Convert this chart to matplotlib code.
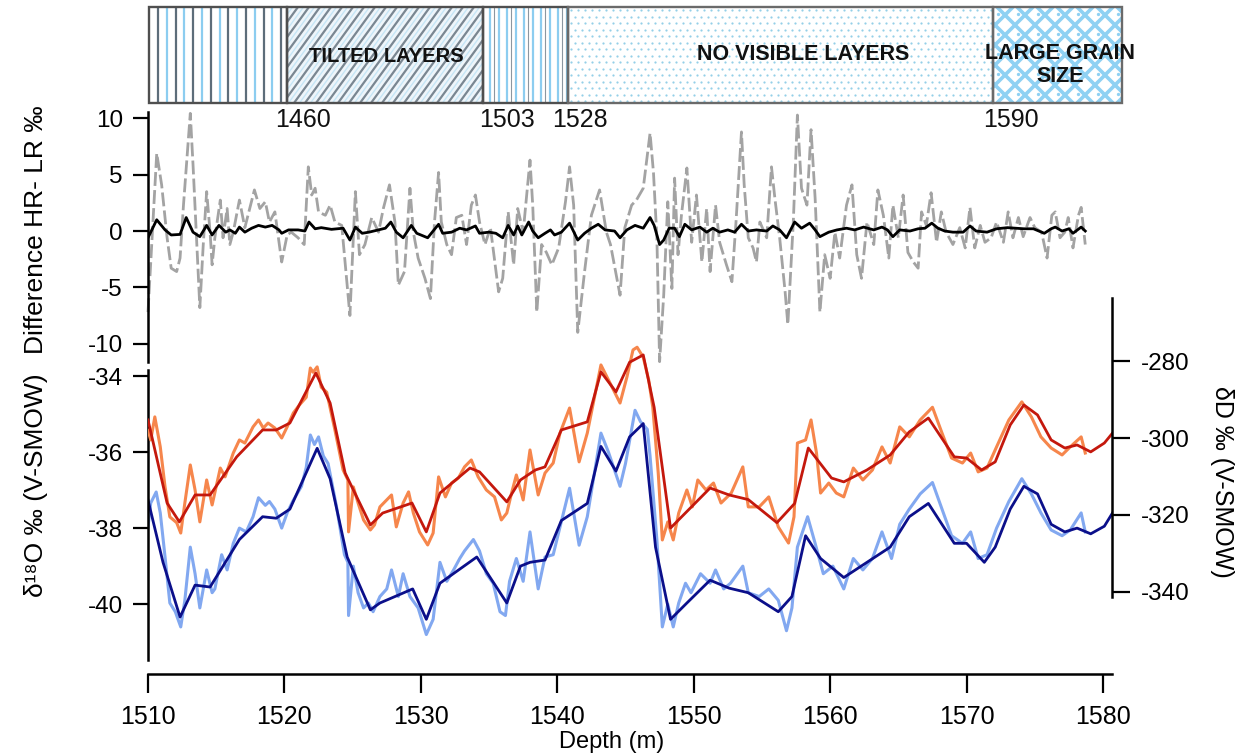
import matplotlib
matplotlib.use("Agg")
import matplotlib.pyplot as plt
import numpy as np
from matplotlib.patches import Rectangle
from matplotlib.collections import LineCollection

plt.rcParams['font.family'] = ['Liberation Sans', 'DejaVu Sans']
plt.rcParams['axes.unicode_minus'] = False

# ---------------- data ----------------
depth_ticks = [1510, 1520, 1530, 1540, 1550, 1560, 1570, 1580]
diff_ticks = [10, 5, 0, -5, -10]
d18o_ticks = [-34, -36, -38, -40]
dd_ticks = [-280, -300, -320, -340]

band_labels = ["", "TILTED LAYERS", "", "NO VISIBLE LAYERS", "LARGE GRAIN\nSIZE"]
band_depths = ["1460", "1503", "1528", "1590"]

# Difference HR - LR (grey dashed)
gray_depth = [1510.0, 1510.64, 1511.0, 1511.4, 1511.7, 1512.1, 1512.35, 1512.6, 1513.1, 1513.3,
              1513.8, 1514.05, 1514.3, 1514.55, 1514.7, 1514.9, 1515.3, 1515.5, 1515.8, 1516.0,
              1516.25, 1516.7, 1517.1, 1517.8, 1518.2, 1518.6, 1518.9, 1519.3, 1519.8, 1520.2,
              1520.5, 1521.0, 1521.45, 1521.75, 1522.0, 1522.25, 1522.5, 1523.0, 1523.35, 1523.7,
              1524.2, 1524.8, 1525.2, 1525.5, 1525.9, 1526.4, 1526.9, 1527.25, 1527.7, 1528.1,
              1528.35, 1528.8, 1529.2, 1529.45, 1529.8, 1530.3, 1530.7, 1531.0, 1531.3, 1531.5,
              1531.9, 1532.25, 1532.6, 1533.0, 1533.35, 1533.7, 1534.0, 1534.3, 1534.7, 1535.1,
              1535.7, 1536.0, 1536.4, 1536.8, 1537.1, 1537.5, 1538.0, 1538.2, 1538.5, 1538.85,
              1539.2, 1539.6, 1540.1, 1540.6, 1540.9, 1541.2, 1541.5, 1542.0, 1542.5, 1543.1,
              1543.6, 1543.9, 1544.6, 1544.95, 1545.45, 1545.8, 1546.3, 1546.8, 1547.05, 1547.3,
              1547.5, 1547.8, 1548.1, 1548.4, 1548.6, 1548.85, 1549.1, 1549.5, 1549.85, 1550.2,
              1550.6, 1550.95, 1551.2, 1551.6, 1551.9, 1552.4, 1552.8, 1553.1, 1553.5, 1553.7,
              1554.0, 1554.35, 1554.6, 1554.85, 1555.35, 1555.7, 1555.95, 1556.3, 1556.7, 1556.9,
              1557.3, 1557.6, 1557.9, 1558.3, 1558.6, 1558.9, 1559.25, 1559.6, 1560.0, 1560.35,
              1560.7, 1561.2, 1561.6, 1561.95, 1562.3, 1562.7, 1563.2, 1563.5, 1563.9, 1564.3,
              1564.6, 1565.0, 1565.35, 1565.7, 1566.1, 1566.45, 1566.7, 1567.05, 1567.4, 1567.8,
              1568.15, 1568.5, 1569.0, 1569.5, 1569.9, 1570.25, 1570.6, 1571.0, 1571.35, 1571.8,
              1572.2, 1572.7, 1573.05, 1573.4, 1573.8, 1574.15, 1574.65, 1575.0, 1575.5, 1575.9,
              1576.25, 1576.5, 1576.85, 1577.2, 1577.45, 1577.8, 1578.2, 1578.4, 1578.7]
gray_diff = [-7.2, 6.9, 4.1, -0.6, -3.3, -3.6, -2.4, 2.3, 10.45, 5.9,
             -6.8, -1.2, 3.5, -0.1, -3.0, -0.6, 2.75, -0.6, 2.0, -1.2,
             -0.1, 2.75, 0.3, 3.65, 2.0, 2.6, 0.8, 1.7, -2.75, -0.35,
             -0.1, -0.6, -1.2, 5.7, 3.2, 3.8, 1.7, 1.4, 2.3, 0.8,
             0.5, -7.5, 3.5, -2.1, -1.2, 1.2, -0.1, 2.0, 4.1, 0.8,
             -4.8, -3.6, 3.8, -0.1, -2.4, -4.2, -6.0, 0.8, 5.2, 0.8,
             -1.2, -2.1, 1.2, 1.4, -1.2, 2.3, 3.2, 0.8, -1.2, 0.3,
             -5.4, -4.2, 1.7, -3.0, 2.0, -0.1, 6.3, 2.3, -7.2, -1.2,
             -1.9, -3.0, -1.5, 2.6, 5.7, 2.3, -9.0, -3.6, 1.4, 3.65,
             -0.1, -1.2, -5.7, 0.3, 2.3, 2.75, 3.8, 8.7, 5.2, -0.6,
             -11.6, -5.7, 2.6, -5.1, 4.7, -2.1, 1.4, 5.6, -1.0, 3.2,
             -2.75, 2.0, -3.6, 2.3, -1.0, -3.0, -4.5, 0.8, 8.8, 4.1,
             -0.6, -1.5, -2.75, 0.8, -0.6, 5.7, 2.9, -0.6, -5.4, -8.3,
             0.8, 10.3, 3.8, 2.3, 9.0, 2.9, -7.2, -2.1, -4.2, -0.1,
             -2.4, 2.3, 4.1, -2.1, -4.2, 0.8, -1.2, 3.65, 1.4, -2.4,
             2.3, -0.6, 3.2, -1.9, -2.75, -3.3, 1.7, 0.5, 3.4, -1.0,
             1.7, -0.1, -1.2, 0.3, -1.5, 2.1, -1.5, 0.5, -1.0, -0.6,
             0.8, -1.0, 1.7, -0.6, 1.2, -0.5, 1.2, 0.3, -0.1, -2.4,
             1.4, 1.7, -0.6, -0.1, 1.2, -1.5, 1.4, 2.1, -1.2]

# Smoothed difference (black)
black_depth = [1510.0, 1510.64, 1511.25, 1511.7, 1512.35, 1512.8, 1513.3, 1513.8, 1514.3, 1514.7,
               1515.2, 1515.7, 1516.0, 1516.4, 1516.7, 1517.1, 1517.6, 1518.1, 1518.6, 1519.1,
               1519.6, 1519.8, 1520.3, 1521.0, 1521.5, 1521.8, 1522.25, 1522.7, 1523.45, 1524.3,
               1524.8, 1525.2, 1525.7, 1526.2, 1526.9, 1527.4, 1527.8, 1528.2, 1528.7, 1529.3,
               1529.7, 1530.5, 1531.3, 1531.6, 1532.25, 1532.85, 1533.35, 1534.0, 1534.3, 1535.0,
               1535.5, 1536.0, 1536.4, 1536.8, 1537.1, 1537.4, 1537.9, 1538.2, 1538.6, 1539.1,
               1539.5, 1539.8, 1540.3, 1540.9, 1541.5, 1542.0, 1542.5, 1543.0, 1543.5, 1544.2,
               1544.6, 1545.1, 1545.7, 1546.3, 1546.8, 1547.1, 1547.5, 1547.8, 1548.2, 1548.6,
               1548.95, 1549.35, 1549.85, 1550.45, 1550.95, 1551.4, 1551.9, 1552.5, 1553.0, 1553.5,
               1554.0, 1554.6, 1555.35, 1555.8, 1556.3, 1556.8, 1557.4, 1557.9, 1558.5, 1558.9,
               1559.25, 1559.9, 1560.5, 1561.2, 1561.8, 1562.45, 1563.2, 1563.8, 1564.2, 1564.6,
               1565.1, 1565.85, 1566.45, 1566.95, 1567.45, 1567.9, 1568.4, 1569.0, 1569.75, 1570.25,
               1570.7, 1571.5, 1572.2, 1573.0, 1573.6, 1574.2, 1574.9, 1575.7, 1576.2, 1576.5,
               1577.0, 1577.5, 1577.8, 1578.4, 1578.7]
black_diff = [-0.6, 1.0, 0.1, -0.35, -0.3, 1.2, -0.1, -0.5, 0.5, -0.35,
              0.5, -0.1, 0.1, -0.2, 0.35, -0.1, 0.25, 0.5, 0.35, 0.5,
              0.1, -0.2, 0.1, 0.1, 0.0, 0.8, 0.2, 0.3, 0.15, 0.25,
              -0.8, 0.35, -0.2, -0.1, 0.1, 0.25, 0.8, -0.1, -0.6, 0.5,
              -0.2, -0.6, 0.6, -0.2, -0.1, 0.25, 0.1, 0.45, -0.2, -0.1,
              -0.2, -0.6, 0.5, -0.35, 0.45, -0.35, 0.8, 0.0, -0.6, -0.2,
              0.1, -0.35, -0.1, 0.7, -0.8, -0.2, 0.25, 0.6, 0.1, 0.0,
              -0.6, 0.1, 0.5, 0.25, 1.2, 0.5, -1.2, -0.8, 0.25, 0.25,
              -0.5, 0.6, 0.1, 0.35, -0.1, 0.25, -0.1, 0.1, -0.1, 0.6,
              0.0, 0.1, 0.0, 0.45, 0.1, -0.6, 0.8, 0.25, 0.7, 0.1,
              -0.5, -0.1, 0.1, 0.25, 0.1, 0.35, 0.1, 0.35, 0.1, -0.5,
              0.1, 0.0, 0.2, 0.25, 0.7, 0.25, 0.0, -0.1, -0.1, 0.45,
              0.0, -0.1, 0.2, 0.3, 0.25, 0.2, 0.2, -0.2, 0.2, 0.35,
              0.0, 0.2, -0.2, 0.35, 0.0]

# d18O high resolution (light blue)
hr_d18o_depth = [1510.0, 1510.2, 1510.6, 1510.9, 1511.25, 1511.6, 1512.0, 1512.4, 1512.7, 1513.1,
                 1513.45, 1513.8, 1514.3, 1514.7, 1514.9, 1515.4, 1515.8, 1516.25, 1516.7, 1517.2,
                 1517.7, 1518.1, 1518.6, 1518.9, 1519.3, 1519.8, 1520.2, 1520.6, 1521.25, 1521.6,
                 1521.9, 1522.2, 1522.5, 1522.85, 1523.2, 1523.8, 1524.4, 1524.65, 1524.7, 1525.05,
                 1525.4, 1525.8, 1526.15, 1526.5, 1527.0, 1527.5, 1527.85, 1528.35, 1528.7, 1529.2,
                 1529.8, 1530.4, 1530.9, 1531.4, 1531.9, 1532.4, 1532.85, 1533.2, 1533.85, 1534.3,
                 1534.8, 1535.3, 1535.8, 1536.2, 1536.5, 1537.0, 1537.5, 1538.0, 1538.6, 1539.1,
                 1539.7, 1540.2, 1540.9, 1541.6, 1542.2, 1543.2, 1543.75, 1544.6, 1545.0, 1545.7,
                 1546.1, 1546.6, 1546.8, 1547.3, 1547.7, 1548.1, 1548.5, 1548.9, 1549.4, 1549.8,
                 1550.5, 1551.2, 1551.6, 1552.2, 1552.7, 1553.6, 1554.0, 1554.8, 1555.5, 1556.2,
                 1556.8, 1557.2, 1557.6, 1558.35, 1558.9, 1559.5, 1560.2, 1561.0, 1561.7, 1562.4,
                 1563.1, 1563.8, 1564.5, 1565.1, 1565.8, 1566.6, 1567.5, 1568.2, 1568.9, 1569.7,
                 1570.3, 1570.85, 1571.5, 1572.2, 1573.1, 1574.05, 1574.75, 1575.45, 1576.2, 1577.0,
                 1577.6, 1578.4, 1578.7]
hr_d18o = [-37.97, -37.34, -37.05, -37.6, -38.76, -39.97, -40.2, -40.6, -39.9, -38.5,
           -39.2, -40.1, -39.1, -39.7, -39.6, -38.7, -39.1, -38.4, -38.0, -38.1,
           -37.7, -37.2, -37.4, -37.3, -37.5, -38.0, -37.6, -37.3, -36.9, -36.4,
           -35.55, -35.8, -35.6, -36.1, -36.3, -37.4, -38.7, -38.9, -40.3, -39.0,
           -39.7, -40.1, -39.97, -40.2, -39.8, -39.6, -39.1, -39.8, -39.2, -39.8,
           -40.1, -40.8, -40.4, -38.9, -39.4, -39.1, -38.8, -38.6, -38.3, -38.6,
           -39.2, -39.45, -40.2, -40.3, -39.4, -38.8, -39.4, -38.1, -39.6, -38.76,
           -38.7, -37.97, -36.95, -38.45, -37.7, -35.5, -36.0, -36.9, -36.3, -34.9,
           -35.2, -35.4, -36.1, -38.3, -40.6, -40.0, -40.6, -39.97, -39.45, -39.7,
           -39.2, -39.45, -39.1, -39.6, -39.45, -39.0, -39.7, -39.8, -39.6, -39.9,
           -40.7, -40.1, -38.5, -37.7, -38.4, -39.2, -39.0, -39.6, -38.8, -39.1,
           -38.8, -38.1, -38.8, -37.9, -37.5, -37.1, -36.8, -37.5, -38.2, -38.4,
           -38.1, -38.8, -38.7, -38.0, -37.3, -36.7, -37.1, -37.6, -38.05, -38.2,
           -38.05, -37.6, -38.1]

# d18O low resolution (navy)
lr_d18o_depth = [1510.0, 1511.1, 1512.35, 1513.45, 1514.55, 1516.7, 1518.4, 1519.4, 1520.4, 1522.4,
                 1523.35, 1524.6, 1526.3, 1527.0, 1529.4, 1530.4, 1531.4, 1534.1, 1536.3, 1537.3,
                 1538.0, 1539.1, 1540.3, 1542.2, 1543.2, 1544.3, 1545.3, 1546.3, 1547.2, 1548.3,
                 1549.5, 1551.2, 1552.6, 1554.0, 1556.2, 1557.2, 1558.2, 1559.3, 1561.0, 1562.7,
                 1564.4, 1565.8, 1567.2, 1569.1, 1570.0, 1571.3, 1572.1, 1573.2, 1574.2, 1575.2,
                 1576.2, 1577.2, 1578.1, 1579.1, 1580.1, 1580.7]
lr_d18o = [-37.26, -38.9, -40.34, -39.5, -39.55, -38.3, -37.7, -37.74, -37.5, -35.9,
           -36.7, -38.76, -40.15, -39.97, -39.6, -40.4, -39.45, -38.76, -39.97, -39.0,
           -38.9, -38.84, -37.8, -37.35, -35.85, -36.5, -35.6, -35.25, -38.5, -40.4,
           -39.97, -39.37, -39.58, -39.7, -40.2, -39.8, -38.2, -38.8, -39.3, -38.9,
           -38.5, -37.7, -37.35, -38.4, -38.4, -38.9, -38.5, -37.5, -36.9, -37.1,
           -37.9, -38.1, -38.0, -38.15, -37.95, -37.6]

# dD high resolution (orange)
hr_dd_depth = [1510.0, 1510.2, 1510.5, 1510.9, 1511.25, 1511.6, 1512.1, 1512.4, 1512.7, 1513.1,
               1513.45, 1513.8, 1514.3, 1514.7, 1515.3, 1515.65, 1516.25, 1516.7, 1517.1, 1517.7,
               1518.1, 1518.45, 1518.8, 1519.3, 1519.8, 1520.2, 1520.65, 1521.1, 1521.6, 1521.9,
               1522.1, 1522.4, 1522.7, 1523.1, 1523.7, 1524.3, 1524.65, 1524.7, 1525.05, 1525.4,
               1525.8, 1526.3, 1526.6, 1527.0, 1527.5, 1527.85, 1528.2, 1528.7, 1529.1, 1529.45,
               1529.9, 1530.5, 1530.9, 1531.3, 1531.8, 1532.25, 1532.75, 1533.2, 1533.7, 1534.2,
               1534.8, 1535.4, 1535.9, 1536.3, 1536.65, 1537.0, 1537.5, 1538.0, 1538.6, 1539.1,
               1539.7, 1540.2, 1540.9, 1541.6, 1542.2, 1543.2, 1543.75, 1544.6, 1545.1, 1545.55,
               1545.85, 1546.3, 1546.7, 1547.0, 1547.4, 1547.7, 1548.1, 1548.5, 1548.9, 1549.5,
               1549.9, 1550.3, 1550.9, 1551.45, 1552.0, 1552.75, 1553.6, 1554.0, 1554.8, 1555.5,
               1556.2, 1556.95, 1557.35, 1557.6, 1558.2, 1558.6, 1559.0, 1559.3, 1559.9, 1560.45,
               1561.0, 1561.7, 1562.4, 1563.1, 1563.8, 1564.4, 1565.1, 1565.8, 1566.6, 1567.5,
               1568.2, 1568.9, 1569.7, 1570.3, 1570.85, 1571.5, 1572.2, 1573.1, 1574.05, 1574.75,
               1575.45, 1576.2, 1577.0, 1577.6, 1578.4, 1578.7]
hr_dd = [-298.0, -300.5, -294.5, -302.3, -312.7, -320.5, -322.0, -324.7, -316.9, -307.0,
         -313.5, -321.8, -310.9, -317.4, -307.8, -310.1, -303.9, -300.5, -301.3, -297.1,
         -295.3, -297.4, -296.1, -297.4, -300.0, -297.1, -293.5, -291.4, -289.4, -281.8,
         -282.9, -281.5, -286.8, -288.1, -297.9, -308.3, -310.9, -324.4, -312.7, -316.9,
         -321.3, -323.9, -322.6, -317.9, -316.1, -314.8, -323.1, -316.9, -314.0, -319.5,
         -324.4, -327.8, -324.7, -310.1, -315.3, -311.7, -310.4, -307.5, -305.7, -310.1,
         -313.5, -315.3, -321.3, -319.5, -314.3, -309.6, -316.1, -303.1, -314.8, -309.1,
         -306.5, -298.7, -292.2, -306.2, -298.7, -281.0, -284.9, -290.9, -284.2, -277.1,
         -276.4, -279.0, -284.9, -292.0, -309.1, -326.5, -321.8, -326.5, -319.5, -313.5,
         -317.9, -310.9, -313.5, -311.7, -316.9, -314.3, -307.5, -317.9, -317.9, -315.3,
         -323.1, -327.3, -320.5, -301.3, -300.5, -295.3, -303.9, -314.3, -311.7, -314.3,
         -315.3, -307.8, -310.9, -308.3, -302.3, -306.5, -297.1, -299.7, -295.3, -292.0,
         -298.7, -305.2, -306.5, -303.9, -308.8, -307.8, -302.3, -295.3, -290.6, -294.5,
         -299.7, -302.6, -304.4, -302.3, -299.7, -303.9]

# dD low resolution (dark red)
lr_dd_depth = [1510.0, 1511.4, 1512.3, 1513.45, 1514.55, 1516.5, 1518.4, 1519.4, 1520.4, 1522.3,
               1523.35, 1524.45, 1526.3, 1527.2, 1529.35, 1530.4, 1531.4, 1533.6, 1534.3, 1536.3,
               1537.3, 1538.4, 1539.1, 1540.3, 1542.2, 1543.2, 1544.3, 1545.3, 1546.3, 1547.1,
               1548.3, 1551.2, 1552.6, 1554.0, 1556.1, 1557.4, 1558.4, 1560.1, 1561.0, 1562.7,
               1564.4, 1565.8, 1567.2, 1569.1, 1570.0, 1571.1, 1572.1, 1573.2, 1574.2, 1575.2,
               1576.2, 1577.2, 1578.1, 1579.1, 1580.1, 1580.7]
lr_dd = [-295.3, -316.9, -321.8, -314.8, -314.8, -304.9, -297.9, -297.9, -296.1, -283.1,
         -290.9, -309.1, -322.6, -319.5, -316.9, -324.4, -314.3, -307.8, -308.8, -316.6,
         -310.9, -308.3, -307.5, -297.9, -295.8, -282.8, -288.0, -280.3, -278.4, -292.0,
         -323.4, -313.0, -314.8, -316.0, -322.0, -317.0, -302.6, -310.4, -311.4, -308.3,
         -304.4, -298.4, -294.8, -304.9, -305.2, -308.3, -306.2, -296.6, -291.4, -294.0,
         -300.5, -302.6, -301.8, -303.6, -301.3, -298.7]

# ---------------- layout (figure pixels) ----------------
W, H = 1255, 756
fig = plt.figure(figsize=(W / 100, H / 100), dpi=100)


def box(x0, y0, x1, y1):
    return [x0 / W, 1 - y1 / H, (x1 - x0) / W, (y1 - y0) / H]


# overlay in pixel coordinates for the lithology band
ov = fig.add_axes([0, 0, 1, 1])
ov.set_xlim(0, W)
ov.set_ylim(H, 0)
ov.axis('off')

BX = [149, 287, 483, 568, 993, 1122]
BY0, BY1 = 7, 103
BH = BY1 - BY0
light_blue = '#8ccdf0'
slate = '#5d6d7a'

rects = []
for i in range(5):
    fc = '#eef5fa' if i == 1 else 'white'
    r = Rectangle((BX[i], BY0), BX[i + 1] - BX[i], BH, facecolor=fc, edgecolor='none', zorder=1)
    ov.add_patch(r)
    rects.append(r)

# segment 1: vertical stripes grey + blue
segs_g = [[(x, BY0), (x, BY1)] for x in np.arange(158, BX[1], 17.6)]
segs_b = [[(x, BY0), (x, BY1)] for x in np.arange(166.8, BX[1], 17.6)]
for segs, col, lw in [(segs_b, light_blue, 1.6), (segs_g, slate, 1.6)]:
    lc = LineCollection(segs, colors=col, linewidths=lw, zorder=2)
    ov.add_collection(lc)
    lc.set_clip_path(rects[0])

# segment 2: tilted lines
slant = 70
segs_g = [[(c, BY1), (c + slant, BY0)] for c in np.arange(BX[1] - slant, BX[2] + 5, 11)]
segs_b = [[(c + 5.5, BY1), (c + 5.5 + slant, BY0)] for c in np.arange(BX[1] - slant, BX[2] + 5, 11)]
for segs, col, lw in [(segs_b, '#c6e6f6', 1.0), (segs_g, '#7a8792', 1.6)]:
    lc = LineCollection(segs, colors=col, linewidths=lw, zorder=2)
    ov.add_collection(lc)
    lc.set_clip_path(rects[1])

# segment 3: vertical blue stripes with thin grey
segs_b = [[(x, BY0), (x, BY1)] for x in np.arange(490, BX[3], 8.5)]
segs_g = [[(x, BY0), (x, BY1)] for x in np.arange(494.2, BX[3], 17)]
for segs, col, lw in [(segs_b, light_blue, 1.6), (segs_g, '#8a96a0', 0.8)]:
    lc = LineCollection(segs, colors=col, linewidths=lw, zorder=2)
    ov.add_collection(lc)
    lc.set_clip_path(rects[2])

# segment 4: dots
dx, dy = 7.0, 6.5
pts_x, pts_y = [], []
for j, yy in enumerate(np.arange(BY0 + 3, BY1, dy)):
    off = 0 if j % 2 == 0 else dx / 2
    for xx in np.arange(BX[3] + 3 + off, BX[4], dx):
        pts_x.append(xx)
        pts_y.append(yy)
ov.plot(pts_x, pts_y, linestyle='none', marker='o', markersize=1.6, markeredgewidth=0,
        color='#94cfe8', zorder=2)

# segment 5: lattice
sp = 20.0
segs = []
for c in np.arange(BX[4] - BH, BX[5] + BH, sp):
    segs.append([(c, BY1), (c + BH, BY0)])
    segs.append([(c, BY0), (c + BH, BY1)])
lc = LineCollection(segs, colors='#8fd1f3', linewidths=2.6, zorder=2)
ov.add_collection(lc)
lc.set_clip_path(rects[4])
cx, cy = [], []
for yy in np.arange(BY0 + sp / 2 - 3, BY1, sp):
    for xx in np.arange(BX[4] + 5, BX[5], sp):
        cx.append(xx)
        cy.append(yy)
dots = ov.plot(cx, cy, linestyle='none', marker='o', markersize=2.4, markeredgewidth=0,
               color='#8fd1f3', zorder=2)[0]
dots.set_clip_path(rects[4])

for i in range(5):
    ec = '#4f4f4f' if i in (0, 1, 2) else '#6a6a6a'
    ov.add_patch(Rectangle((BX[i], BY0), BX[i + 1] - BX[i], BH, facecolor='none',
                           edgecolor=ec, linewidth=1.7, zorder=4))

band_text_pos = [None, (386, 57), None, (803, 55), (1060, 65)]
band_text_size = [0, 14.5, 0, 15.5, 15.5]
for lab, pos, fs in zip(band_labels, band_text_pos, band_text_size):
    if lab:
        ov.text(pos[0], pos[1], lab, ha='center', va='center', fontsize=fs,
                fontweight='bold', color='#111111', linespacing=1.1, zorder=5)

depth_label_x = [303, 507, 580, 1011]
for lab, xx in zip(band_depths, depth_label_x):
    ov.text(xx, 120, lab, ha='center', va='center', fontsize=18, color='#111111')

# ---------------- difference panel ----------------
XMIN, XMAX = 1510, 1580.66
ax_d = fig.add_axes(box(148, 112, 1112, 362))
ax_d.patch.set_alpha(0)
ax_d.set_xlim(XMIN, XMAX)
ax_d.set_ylim(-11.63, 10.57)
for s in ['top', 'right', 'bottom']:
    ax_d.spines[s].set_visible(False)
ax_d.spines['left'].set_linewidth(1.8)
ax_d.set_yticks(diff_ticks)
ax_d.set_yticklabels([str(t) for t in diff_ticks])
ax_d.tick_params(axis='y', direction='out', length=11, width=1.6, labelsize=17.5, pad=7)
ax_d.tick_params(axis='x', bottom=False, labelbottom=False)
ax_d.plot(gray_depth, gray_diff, color='#a3a3a3', linewidth=2.0, linestyle=(0, (5, 1.5)),
          clip_on=False)
ax_d.plot(black_depth, black_diff, color='black', linewidth=2.0)

# ---------------- isotope panel ----------------
ax_o = fig.add_axes(box(148, 370, 1112, 660))
ax_o.patch.set_alpha(0)
ax_o.set_xlim(XMIN, XMAX)
ax_o.set_ylim(-41.47, -33.84)
for s in ['top', 'right']:
    ax_o.spines[s].set_visible(False)
ax_o.spines['left'].set_linewidth(1.8)
ax_o.spines['bottom'].set_linewidth(1.8)
ax_o.spines['bottom'].set_position(('outward', 10))
ax_o.set_yticks(d18o_ticks)
ax_o.set_yticklabels([str(t) for t in d18o_ticks])
ax_o.set_xticks(depth_ticks)
ax_o.set_xticklabels([str(t) for t in depth_ticks])
ax_o.tick_params(axis='y', direction='out', length=11, width=1.6, labelsize=17.5, pad=7)
ax_o.tick_params(axis='x', direction='out', length=13.5, width=1.6, labelsize=18, pad=9)
ax_o.plot(hr_d18o_depth, hr_d18o, color='#82a8f0', linewidth=2.2)
ax_o.plot(lr_d18o_depth, lr_d18o, color='#0b0f8a', linewidth=2.0)

ax_h = fig.add_axes(box(148, 298, 1112, 660))
ax_h.patch.set_alpha(0)
ax_h.set_xlim(XMIN, XMAX)
ax_h.set_ylim(-357.7, -263.6)
for s in ['top', 'left', 'bottom']:
    ax_h.spines[s].set_visible(False)
ax_h.spines['right'].set_linewidth(1.8)
ax_h.spines['right'].set_bounds(-341.3, -263.6)
ax_h.yaxis.tick_right()
ax_h.set_yticks(dd_ticks)
ax_h.set_yticklabels([str(t) for t in dd_ticks])
ax_h.tick_params(axis='y', direction='out', length=13, width=1.6, labelsize=17.5, pad=8)
ax_h.tick_params(axis='x', bottom=False, labelbottom=False)
ax_h.plot(hr_dd_depth, hr_dd, color='#f6864c', linewidth=2.2)
ax_h.plot(lr_dd_depth, lr_dd, color='#c4180d', linewidth=2.0)

# ---------------- axis titles ----------------
fig.text(36 / W, 1 - 230 / H, "Difference HR- LR \u2030", rotation=90, ha='center', va='center',
         fontsize=19)
fig.text(36 / W, 1 - 485 / H, "\u03b4\u00b9\u2078O \u2030 (V-SMOW)", rotation=90, ha='center',
         va='center', fontsize=19)
fig.text(1222 / W, 1 - 482 / H, "\u03b4D \u2030 (V-SMOW)", rotation=270, ha='center',
         va='center', fontsize=18)
fig.text(612 / W, 1 - 742 / H, "Depth (m)", ha='center', va='center', fontsize=17)

fig.savefig("out.png", dpi=100)
